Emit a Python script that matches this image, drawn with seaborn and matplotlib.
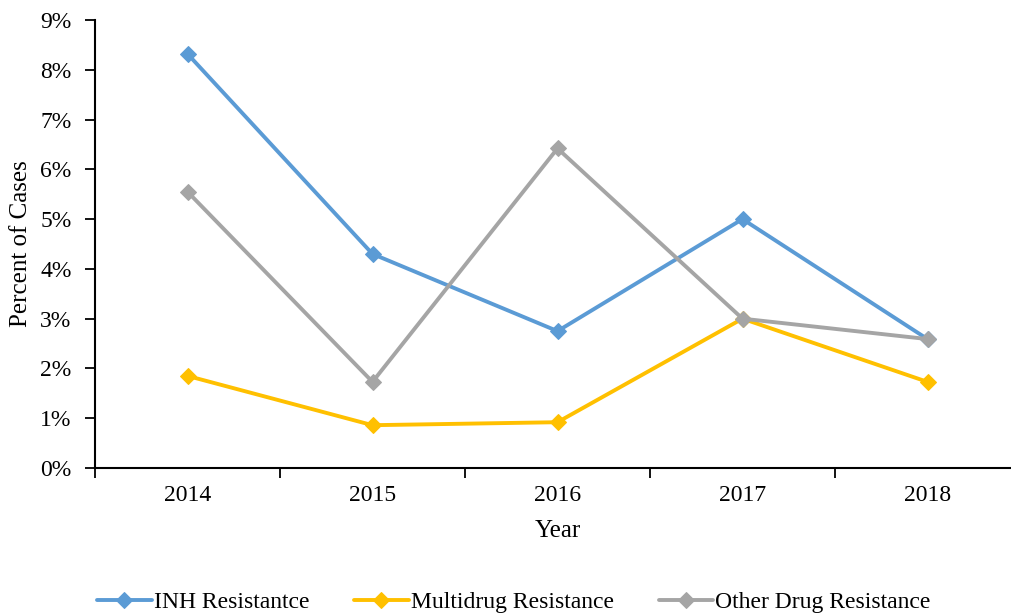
import matplotlib
matplotlib.use("Agg")
import matplotlib.pyplot as plt
import matplotlib.ticker as mticker
import seaborn as sns
import pandas as pd

years = ["2014", "2015", "2016", "2017", "2018"]
inh = [8.32, 4.30, 2.75, 5.00, 2.59]
multidrug = [1.85, 0.86, 0.92, 3.00, 1.73]
other = [5.55, 1.73, 6.42, 3.00, 2.59]

series = {
    "INH Resistantce": (inh, "#5B9BD5"),
    "Multidrug Resistance": (multidrug, "#FFC000"),
    "Other Drug Resistance": (other, "#A5A5A5"),
}

sns.set_style("white")
plt.rcParams["font.family"] = ["Liberation Serif", "DejaVu Serif"]
plt.rcParams["font.size"] = 17
plt.rcParams["text.color"] = "black"
plt.rcParams["axes.labelcolor"] = "black"
plt.rcParams["xtick.color"] = "black"
plt.rcParams["ytick.color"] = "black"

fig = plt.figure(figsize=(10.12, 6.16), dpi=100)
ax = fig.add_axes([95 / 1012, 148 / 616, 925 / 1012, 448 / 616])

for name, (vals, color) in series.items():
    df = pd.DataFrame({"Year": years, "Value": vals})
    sns.lineplot(data=df, x="Year", y="Value", ax=ax, color=color, linewidth=2.8,
                 marker="D", markersize=8.5, markeredgecolor=color, label=name)

ax.set_xlim(-0.5, 4.5)
ax.set_ylim(0, 9)
ax.yaxis.set_major_locator(mticker.MultipleLocator(1))
ax.yaxis.set_major_formatter(mticker.FuncFormatter(lambda v, p: f"{int(v)}%"))
ax.set_xticks(range(len(years)))
ax.set_xticklabels(years)
ax.set_xticks([i - 0.5 for i in range(len(years) + 1)], minor=True)
ax.tick_params(axis="x", which="major", bottom=True, length=0, pad=12, labelsize=17, labelcolor="black")
ax.tick_params(axis="x", which="minor", bottom=True, length=7, width=1.3, direction="out", color="black")
ax.tick_params(axis="y", which="major", left=True, length=7, width=1.3, direction="out",
               color="black", labelsize=17, pad=10, labelcolor="black")

for s in ["top", "right"]:
    ax.spines[s].set_visible(False)
for s in ["left", "bottom"]:
    ax.spines[s].set_color("black")
    ax.spines[s].set_linewidth(1.5)

ax.set_xlabel("Year", fontsize=18, labelpad=10, color="black")
ax.set_ylabel("Percent of Cases", fontsize=18, labelpad=6, color="black")

leg = ax.legend(loc="center", bbox_to_anchor=(514 / 1012, 14 / 616), bbox_transform=fig.transFigure,
                ncol=3, frameon=False, fontsize=17, handlelength=2.3, columnspacing=1.9,
                handletextpad=0.1)
for t in leg.get_texts():
    t.set_color("black")

fig.savefig("out.png", dpi=100)
